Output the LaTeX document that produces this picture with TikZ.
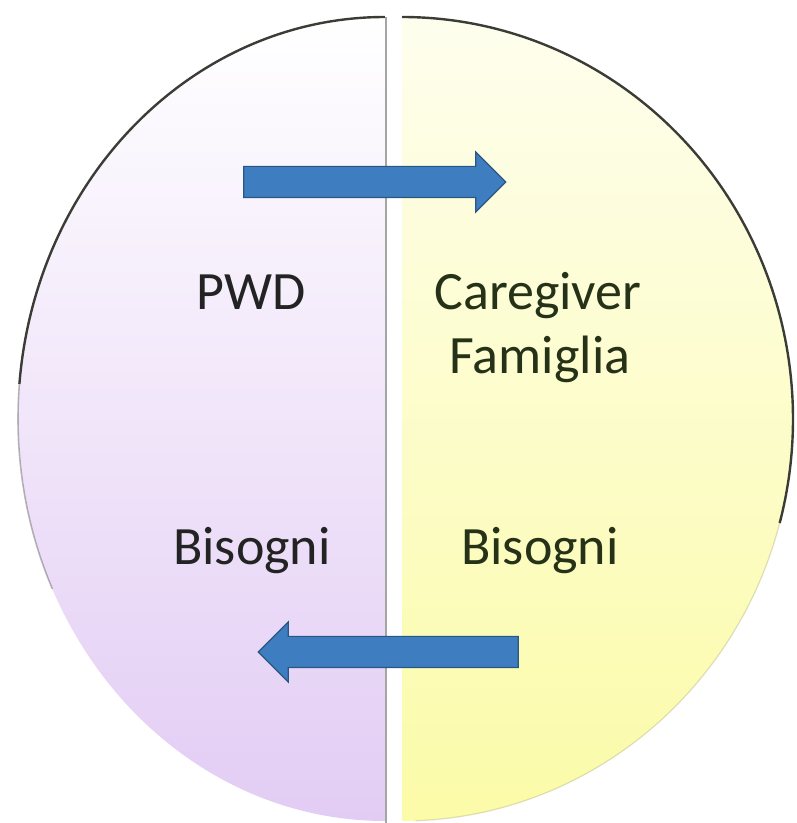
\documentclass[tikz,border=0pt]{standalone}
\usepackage{fontspec}
\setmainfont{Carlito}
\usepackage{tikz}
\usetikzlibrary{arrows.meta,positioning,shapes.arrows}
\definecolor{halfleft}{RGB}{226,204,244}
\definecolor{halfleftmid}{RGB}{246,236,252}
\definecolor{halfright}{RGB}{251,251,168}
\definecolor{halfrighttop}{RGB}{254,254,238}
\definecolor{halfrightmid}{RGB}{253,253,212}
\definecolor{rimgray}{RGB}{60,60,55}
\definecolor{splitgray}{RGB}{165,165,165}
\definecolor{arrowfill}{RGB}{62,126,192}
\definecolor{arrowline}{RGB}{42,86,132}
\definecolor{textleft}{RGB}{35,35,35}
\definecolor{textright}{RGB}{38,50,24}

\begin{document}
\begin{tikzpicture}[
  x=1pt, y=1pt,
  label/.style={font=\fontsize{54}{62}\selectfont, anchor=base},
  blockarrow/.style={single arrow, draw=arrowline, fill=arrowfill, line width=1.2pt,
                     inner sep=0pt, minimum height=262pt, text height=30pt,
                     single arrow head extend=14.5pt, single arrow tip angle=90},
  rim/.style={draw=rimgray, line width=2.4pt}
]
\useasboundingbox (0,0) rectangle (797,823);

% the two halves
\path[top color=white, middle color=halfleftmid, bottom color=halfleft]
  (385,806) arc[start angle=90, end angle=270, x radius=367, y radius=402] -- cycle;
\path[top color=halfrighttop, middle color=halfrightmid, bottom color=halfright]
  (402,806) arc[start angle=90, end angle=-90, x radius=391, y radius=402] -- cycle;

% rims, fading towards the bottom
\draw[rim] (385,806) arc[start angle=90, end angle=175, x radius=367, y radius=402];
\draw[rim, draw opacity=.35, line width=1.6pt]
  (385,404) ++(175:367 and 402) arc[start angle=175, end angle=205, x radius=367, y radius=402];
\draw[rim] (402,806) arc[start angle=90, end angle=-15, x radius=391, y radius=402];
\draw[rim, draw=halfright!60!black, draw opacity=.3, line width=1.2pt]
  (402,404) ++(-15:391 and 402) arc[start angle=-15, end angle=-88, x radius=391, y radius=402];

% divider
\draw[splitgray, line width=2pt] (386,806) -- (386,0);

% arrows
\node[blockarrow] (give) at (367,641) {};
\node[blockarrow, minimum height=260pt, shape border rotate=180] (need) at (396,171) {};

% labels
\node[label, text=textleft] (pwd) at (251,513) {PWD};
\node[label, text=textright] (carer) at (538,513) {Caregiver};
\node[label, text=textright] (family) at (540,449) {Famiglia};
\node[label, text=textleft] (needl) at (252,258) {Bisogni};
\node[label, text=textright] (needr) at (540,258) {Bisogni};
\end{tikzpicture}
\end{document}
